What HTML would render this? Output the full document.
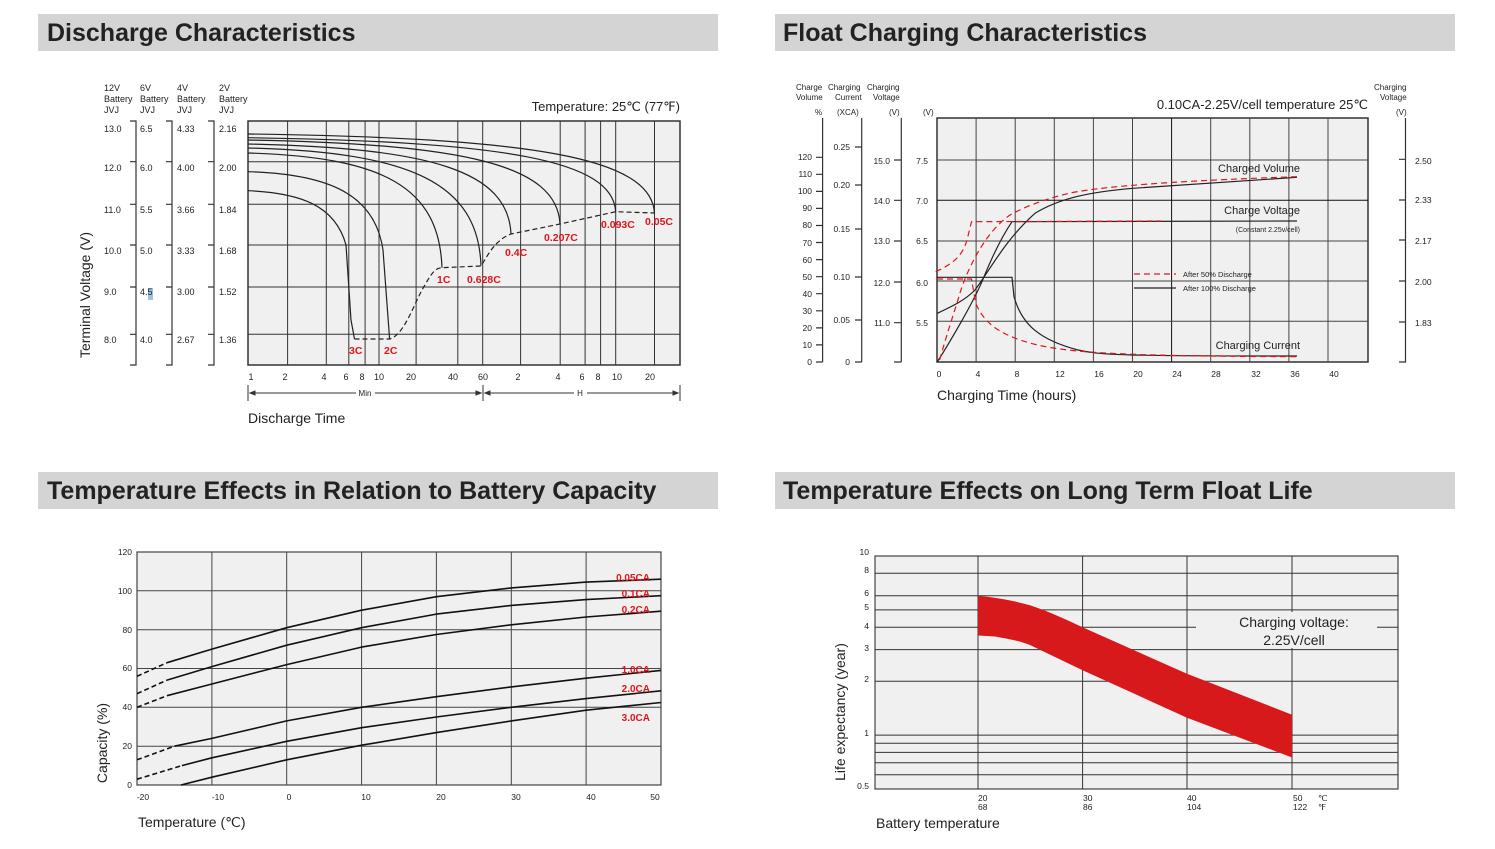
<!DOCTYPE html>
<html><head><meta charset="utf-8"><style>
html,body{margin:0;padding:0;background:#fff;}
svg{display:block;font-family:"Liberation Sans",Arial,sans-serif;}
</style></head><body>
<svg width="1495" height="849" viewBox="0 0 1495 849" xmlns="http://www.w3.org/2000/svg">
<!-- headers -->
<rect x="38" y="14" width="680" height="37" fill="#d4d4d4"/>
<rect x="775" y="14" width="680" height="37" fill="#d4d4d4"/>
<rect x="38" y="472" width="680" height="37" fill="#d4d4d4"/>
<rect x="775" y="472" width="680" height="37" fill="#d4d4d4"/>
<g font-weight="bold" font-size="25" fill="#222">
<text x="47" y="41">Discharge Characteristics</text>
<text x="783" y="41">Float Charging Characteristics</text>
<text x="47" y="499">Temperature Effects in Relation to Battery Capacity</text>
<text x="783" y="499">Temperature Effects on Long Term Float Life</text>
</g>

<!-- ===== Chart 1 ===== -->
<rect x="248" y="121" width="432" height="244" fill="#f0f0f0" stroke="#333" stroke-width="1.5"/>
<g stroke="#333" stroke-width="1">
<line x1="287.6" y1="121" x2="287.6" y2="365"/><line x1="326.3" y1="121" x2="326.3" y2="365"/>
<line x1="348.8" y1="121" x2="348.8" y2="365"/><line x1="365.1" y1="121" x2="365.1" y2="365"/>
<line x1="379" y1="121" x2="379" y2="365"/><line x1="416.1" y1="121" x2="416.1" y2="365"/>
<line x1="457.8" y1="121" x2="457.8" y2="365"/><line x1="482.7" y1="121" x2="482.7" y2="365"/>
<line x1="520.6" y1="121" x2="520.6" y2="365"/><line x1="560.2" y1="121" x2="560.2" y2="365"/>
<line x1="585.1" y1="121" x2="585.1" y2="365"/><line x1="600.6" y1="121" x2="600.6" y2="365"/>
<line x1="615.7" y1="121" x2="615.7" y2="365"/><line x1="654.5" y1="121" x2="654.5" y2="365"/>
<line x1="248" y1="161.7" x2="680" y2="161.7"/><line x1="248" y1="204.3" x2="680" y2="204.3"/>
<line x1="248" y1="245" x2="680" y2="245"/><line x1="248" y1="287" x2="680" y2="287"/>
<line x1="248" y1="334.3" x2="680" y2="334.3"/>
</g>
<g fill="none" stroke="#222" stroke-width="1.2">
<path d="M248,134 C532,138 651,157 654.5,213"/>
<path d="M248,137.7 C505,141.7 612.7,160 615.7,211.7"/>
<path d="M248,140 C466,144 557,165 560,224"/>
<path d="M248,144 C432,148 508,171 511,234"/>
<path d="M248,148 C411,152 478,183 481,265.7"/>
<path d="M248,153 C384,157 439,187 442,267.7"/>
<path d="M248,171.7 C330,174 375,195 383,250 L389.6,339"/>
<path d="M248,190.7 C300,193 335,205 346,245 L351,320 L354.5,339"/>
<path d="M354.5,339 L389.6,339 C405,335 415,300 425,285 C432,272 436,268 442,267.7 L481,266 C488,255 495,240 511,234 L560,224 L615.7,211.7 L654.5,213" stroke-dasharray="5,3"/>
</g>
<g fill="#e0161b" font-weight="bold" font-size="10.5">
<text x="349" y="354">3C</text><text x="384" y="354">2C</text>
<text x="437" y="283">1C</text><text x="467" y="283">0.628C</text>
<text x="505" y="256">0.4C</text><text x="544" y="241">0.207C</text>
<text x="601" y="228">0.093C</text><text x="645" y="225">0.05C</text>
</g>
<!-- left brackets -->
<g stroke="#333" stroke-width="1.2" fill="none">
<path d="M130,121 H136 V365 H130"/><path d="M166,121 H172 V365 H166"/><path d="M208,121 H214 V365 H208"/>
<path d="M130,161.7H136M130,204.3H136M130,245H136M130,287H136M130,334.3H136"/>
<path d="M166,161.7H172M166,204.3H172M166,245H172M166,287H172M166,334.3H172"/>
<path d="M208,161.7H214M208,204.3H214M208,245H214M208,287H214M208,334.3H214"/>
</g>
<rect x="148" y="288" width="5" height="12" fill="#9ec3e0"/>
<g font-size="9" fill="#222">
<text x="104" y="91">12V</text><text x="104" y="102">Battery</text><text x="104" y="113">JVJ</text>
<text x="140" y="91">6V</text><text x="140" y="102">Battery</text><text x="140" y="113">JVJ</text>
<text x="177" y="91">4V</text><text x="177" y="102">Battery</text><text x="177" y="113">JVJ</text>
<text x="219" y="91">2V</text><text x="219" y="102">Battery</text><text x="219" y="113">JVJ</text>
<text x="104" y="132">13.0</text><text x="104" y="171">12.0</text><text x="104" y="213">11.0</text><text x="104" y="254">10.0</text><text x="104" y="295">9.0</text><text x="104" y="343">8.0</text>
<text x="140" y="132">6.5</text><text x="140" y="171">6.0</text><text x="140" y="213">5.5</text><text x="140" y="254">5.0</text><text x="140" y="295">4.5</text><text x="140" y="343">4.0</text>
<text x="177" y="132">4.33</text><text x="177" y="171">4.00</text><text x="177" y="213">3.66</text><text x="177" y="254">3.33</text><text x="177" y="295">3.00</text><text x="177" y="343">2.67</text>
<text x="219" y="132">2.16</text><text x="219" y="171">2.00</text><text x="219" y="213">1.84</text><text x="219" y="254">1.68</text><text x="219" y="295">1.52</text><text x="219" y="343">1.36</text>
</g>
<text transform="translate(90,295) rotate(-90)" text-anchor="middle" font-size="14" fill="#222">Terminal Voltage (V)</text>
<text x="680" y="111" text-anchor="end" font-size="13" fill="#222">Temperature: 25℃ (77℉)</text>
<g font-size="9" fill="#222" text-anchor="middle">
<text x="251" y="380">1</text><text x="285" y="380">2</text><text x="324" y="380">4</text><text x="346" y="380">6</text><text x="362" y="380">8</text><text x="379" y="380">10</text><text x="411" y="380">20</text><text x="453" y="380">40</text><text x="483" y="380">60</text><text x="518" y="380">2</text><text x="558" y="380">4</text><text x="582" y="380">6</text><text x="598" y="380">8</text><text x="617" y="380">10</text><text x="650" y="380">20</text>
</g>
<g stroke="#333" stroke-width="1" fill="#333">
<line x1="248" y1="385" x2="248" y2="401"/><line x1="483" y1="385" x2="483" y2="401"/><line x1="680" y1="385" x2="680" y2="401"/>
<line x1="250" y1="393" x2="356" y2="393"/><line x1="375" y1="393" x2="481" y2="393"/>
<line x1="485" y1="393" x2="574" y2="393"/><line x1="587" y1="393" x2="678" y2="393"/>
<path d="M250,393 l5,-2 v4z M481,393 l-5,-2 v4z M485,393 l5,-2 v4z M678,393 l-5,-2 v4z"/>
</g>
<text x="365" y="396" text-anchor="middle" font-size="8" fill="#222">Min</text>
<text x="580" y="396" text-anchor="middle" font-size="8" fill="#222">H</text>
<text x="248" y="423" font-size="14" fill="#222">Discharge Time</text>

<!-- ===== Chart 2 ===== -->
<rect x="937" y="118" width="431" height="244" fill="#f0f0f0" stroke="#333" stroke-width="1.5"/>
<g stroke="#444" stroke-width="1">
<line x1="976.1" y1="118" x2="976.1" y2="362"/><line x1="1015.2" y1="118" x2="1015.2" y2="362"/>
<line x1="1054.3" y1="118" x2="1054.3" y2="362"/><line x1="1093.4" y1="118" x2="1093.4" y2="362"/>
<line x1="1132.5" y1="118" x2="1132.5" y2="362"/><line x1="1171.6" y1="118" x2="1171.6" y2="362" stroke="#111"/>
<line x1="1210.7" y1="118" x2="1210.7" y2="362"/><line x1="1249.8" y1="118" x2="1249.8" y2="362"/>
<line x1="1288.9" y1="118" x2="1288.9" y2="362"/><line x1="1328" y1="118" x2="1328" y2="362"/>
<line x1="937" y1="160" x2="1368" y2="160"/><line x1="937" y1="200.3" x2="1368" y2="200.3" stroke="#111"/>
<line x1="937" y1="241" x2="1368" y2="241"/><line x1="937" y1="281" x2="1368" y2="281"/>
<line x1="937" y1="321.3" x2="1368" y2="321.3"/>
</g>
<g fill="none" stroke-width="1.2">
<path d="M937,277.3 L1012,277.3 L1014,296.7 C1022,325 1040,340 1078,350 C1100,355 1120,356 1297,356" stroke="#222"/>
<path d="M937.4,361.7 C948,345 975,300 984,276.7 C995,250 1005,232 1012,221.7 L1297,221" stroke="#222"/>
<path d="M937.4,313.3 C955,305 965,300 975,290 C990,270 1005,240 1035,213.3 C1060,198 1090,192 1133,188.3 L1297,177.3" stroke="#222"/>
<g stroke="#e0161b" stroke-dasharray="6,4">
<path d="M935.7,271.7 C950,265 962,258 967,240 L971.5,221.7 L1161,221"/>
<path d="M939.6,360 C948,330 955,310 960,293 C967,270 985,232 1010,215 C1030,204 1050,198 1070,193 C1110,185 1200,180 1297,176.7"/>
<path d="M937,279 L971.5,279 L975.7,303.3 C985,325 1001,333 1020,340 C1056,352 1100,356 1297,356.7"/>
<line x1="1134" y1="274" x2="1176" y2="274"/>
</g>
<line x1="1134" y1="288" x2="1176" y2="288" stroke="#222"/>
</g>
<g font-size="11" fill="#222" text-anchor="end">
<text x="1300" y="172">Charged Volume</text><text x="1300" y="214">Charge Voltage</text>
<text x="1300" y="232" font-size="7">(Constant 2.25v/cell)</text>
<text x="1300" y="349">Charging Current</text>
</g>
<text x="1183" y="277" font-size="7.5" fill="#222">After   50% Discharge</text>
<text x="1183" y="291" font-size="7.5" fill="#222">After 100% Discharge</text>
<g stroke="#333" stroke-width="1.2" fill="none">
<path d="M822.6,118 V362"/><path d="M861.7,118 V362"/><path d="M901.3,118 V362"/>
<path d="M1405.5,118 V362 H1399"/>
<path d="M816,362H822.6M816,344.9H822.6M816,327.9H822.6M816,310.8H822.6M816,293.7H822.6M816,276.7H822.6M816,259.6H822.6M816,242.5H822.6M816,225.5H822.6M816,208.4H822.6M816,191.4H822.6M816,174.3H822.6M816,157.3H822.6"/>
<path d="M855,147H861.7M855,185H861.7M855,229H861.7M855,277H861.7M855,320H861.7M855,362H861.7"/>
<path d="M894,160H901.3M894,200.3H901.3M894,241H901.3M894,282H901.3M894,322.7H901.3M894,362H901.3"/>
<path d="M1399,159.3H1405.5M1399,200H1405.5M1399,240H1405.5M1399,281H1405.5M1399,322H1405.5"/>
</g>
<g font-size="8" fill="#222">
<text x="796" y="90">Charge</text><text x="796" y="100">Volume</text>
<text x="828" y="90">Charging</text><text x="835" y="100">Current</text>
<text x="867" y="90">Charging</text><text x="873" y="100">Voltage</text>
<text x="1374" y="90">Charging</text><text x="1380" y="100">Voltage</text>
<text x="815" y="115">%</text><text x="837" y="115">(XCA)</text><text x="889" y="115">(V)</text><text x="923" y="115">(V)</text><text x="1396" y="115">(V)</text>
</g>
<g font-size="8.5" fill="#222" text-anchor="end">
<text x="812" y="160">120</text><text x="812" y="177">110</text><text x="812" y="194">100</text><text x="812" y="211">90</text><text x="812" y="228">80</text><text x="812" y="246">70</text><text x="812" y="263">60</text><text x="812" y="280">50</text><text x="812" y="297">40</text><text x="812" y="314">30</text><text x="812" y="331">20</text><text x="812" y="348">10</text><text x="812" y="365">0</text>
<text x="850" y="150">0.25</text><text x="850" y="188">0.20</text><text x="850" y="232">0.15</text><text x="850" y="280">0.10</text><text x="850" y="323">0.05</text><text x="850" y="365">0</text>
<text x="890" y="164">15.0</text><text x="890" y="204">14.0</text><text x="890" y="244">13.0</text><text x="890" y="286">12.0</text><text x="890" y="326">11.0</text>
<text x="928" y="164">7.5</text><text x="928" y="204">7.0</text><text x="928" y="244">6.5</text><text x="928" y="286">6.0</text><text x="928" y="326">5.5</text>
</g>
<g font-size="8.5" fill="#222">
<text x="1415" y="164">2.50</text><text x="1415" y="203">2.33</text><text x="1415" y="244">2.17</text><text x="1415" y="285">2.00</text><text x="1415" y="326">1.83</text>
</g>
<g font-size="8.5" fill="#222" text-anchor="middle">
<text x="939" y="377">0</text><text x="978" y="377">4</text><text x="1017" y="377">8</text><text x="1060" y="377">12</text><text x="1099" y="377">16</text><text x="1138" y="377">20</text><text x="1177" y="377">24</text><text x="1216" y="377">28</text><text x="1256" y="377">32</text><text x="1295" y="377">36</text><text x="1334" y="377">40</text>
</g>
<text x="1368" y="109" text-anchor="end" font-size="13" fill="#222">0.10CA-2.25V/cell  temperature 25℃</text>
<text x="937" y="400" font-size="14" fill="#222">Charging Time (hours)</text>

<!-- ===== Chart 3 ===== -->
<rect x="137" y="552" width="524" height="233" fill="#f0f0f0" stroke="#444" stroke-width="1.2"/>
<g stroke="#444" stroke-width="1">
<line x1="211.9" y1="552" x2="211.9" y2="785"/><line x1="286.7" y1="552" x2="286.7" y2="785"/>
<line x1="361.6" y1="552" x2="361.6" y2="785"/><line x1="436.4" y1="552" x2="436.4" y2="785"/>
<line x1="511.3" y1="552" x2="511.3" y2="785"/><line x1="586.1" y1="552" x2="586.1" y2="785"/>
<line x1="137" y1="746.2" x2="661" y2="746.2"/><line x1="137" y1="707.3" x2="661" y2="707.3"/>
<line x1="137" y1="668.5" x2="661" y2="668.5"/><line x1="137" y1="629.7" x2="661" y2="629.7"/>
<line x1="137" y1="590.8" x2="661" y2="590.8"/>
</g>
<g fill="none" stroke="#111" stroke-width="1.6" stroke-linejoin="round">
<polyline points="167,662.7 211.9,649.1 286.7,627.7 361.6,610.2 436.4,596.7 511.3,587.9 586.1,582.1 661,579.2"/>
<polyline points="167,680.1 211.9,666.6 286.7,645.2 361.6,627.7 436.4,614.1 511.3,605.4 586.1,599.6 661,595.7"/>
<polyline points="167,695.7 211.9,684 286.7,664.6 361.6,647.1 436.4,634.5 511.3,624.8 586.1,617 661,611.2"/>
<polyline points="174.4,746.2 211.9,738.4 286.7,720.9 361.6,707.3 436.4,696.7 511.3,686.9 586.1,678.2 661,670.4"/>
<polyline points="181.9,765.6 211.9,757.8 286.7,741.3 361.6,727.7 436.4,717 511.3,707.3 586.1,698.6 661,690.8"/>
<polyline points="181,785 211.9,777.2 286.7,759.8 361.6,745.2 436.4,732.6 511.3,720.9 586.1,710.2 661,702.5"/>
<g stroke-dasharray="5,3">
<line x1="137" y1="676.3" x2="167" y2="662.7"/><line x1="137" y1="693.7" x2="167" y2="680.1"/>
<line x1="137" y1="707.3" x2="167" y2="695.7"/><line x1="137" y1="759.8" x2="174.4" y2="746.2"/>
<line x1="137" y1="779.2" x2="181.9" y2="765.6"/>
</g>
</g>
<g fill="#e0161b" font-weight="bold" font-size="10" text-anchor="end">
<text x="650" y="581">0.05CA</text><text x="650" y="597">0.1CA</text><text x="650" y="613">0.2CA</text>
<text x="650" y="673">1.0CA</text><text x="650" y="692">2.0CA</text><text x="650" y="721">3.0CA</text>
</g>
<g font-size="8.5" fill="#222" text-anchor="end">
<text x="132" y="555">120</text><text x="132" y="594">100</text><text x="132" y="633">80</text><text x="132" y="671">60</text><text x="132" y="710">40</text><text x="132" y="749">20</text><text x="132" y="788">0</text>
</g>
<g font-size="8.5" fill="#222" text-anchor="middle">
<text x="143" y="800">-20</text><text x="218" y="800">-10</text><text x="289" y="800">0</text><text x="366" y="800">10</text><text x="441" y="800">20</text><text x="516" y="800">30</text><text x="591" y="800">40</text><text x="655" y="800">50</text>
</g>
<text transform="translate(107,743) rotate(-90)" text-anchor="middle" font-size="14" fill="#222">Capacity (%)</text>
<text x="138" y="827" font-size="14" fill="#222">Temperature (℃)</text>

<!-- ===== Chart 4 ===== -->
<rect x="875" y="556" width="523" height="233" fill="#f0f0f0" stroke="#444" stroke-width="1.2"/>
<g stroke="#333" stroke-width="1">
<line x1="978" y1="556" x2="978" y2="789"/><line x1="1082.6" y1="556" x2="1082.6" y2="789"/>
<line x1="1187" y1="556" x2="1187" y2="789"/><line x1="1292" y1="556" x2="1292" y2="789"/>
<line x1="875" y1="774.8" x2="1398" y2="774.8"/><line x1="875" y1="762.8" x2="1398" y2="762.8"/>
<line x1="875" y1="752.4" x2="1398" y2="752.4"/><line x1="875" y1="743.3" x2="1398" y2="743.3"/>
<line x1="875" y1="735.1" x2="1398" y2="735.1"/><line x1="875" y1="681.2" x2="1398" y2="681.2"/>
<line x1="875" y1="649.6" x2="1398" y2="649.6"/><line x1="875" y1="627.3" x2="1398" y2="627.3"/>
<line x1="875" y1="609.9" x2="1398" y2="609.9"/><line x1="875" y1="595.7" x2="1398" y2="595.7"/>
<line x1="875" y1="573.3" x2="1398" y2="573.3"/>
</g>
<rect x="1196" y="612" width="181" height="36" fill="#f0f0f0"/>
<path d="M978,595.7 C1000,598 1015,601 1030.3,605.4 C1050,612 1065,619 1082.6,627.3 L1187,673.8 L1292,714.7 L1292,757.5 L1187,717.7 L1082.6,670.3 L1030,645 C1020,641 1009,639 995,636.5 L978,635.5 Z" fill="#d7191c"/>
<text x="1294" y="627" text-anchor="middle" font-size="14" fill="#222">Charging voltage:</text>
<text x="1294" y="645" text-anchor="middle" font-size="14" fill="#222">2.25V/cell</text>
<g font-size="8.5" fill="#222" text-anchor="end">
<text x="869" y="555">10</text><text x="869" y="573">8</text><text x="869" y="596">6</text><text x="869" y="610">5</text><text x="869" y="629">4</text><text x="869" y="651">3</text><text x="869" y="682">2</text><text x="869" y="736">1</text><text x="869" y="789">0.5</text>
</g>
<g font-size="8.5" fill="#222">
<text x="978" y="801">20</text><text x="978" y="810">68</text>
<text x="1083" y="801">30</text><text x="1083" y="810">86</text>
<text x="1187" y="801">40</text><text x="1187" y="810">104</text>
<text x="1293" y="801">50</text><text x="1293" y="810">122</text>
<text x="1318" y="801">℃</text><text x="1318" y="810">℉</text>
</g>
<text transform="translate(845,712) rotate(-90)" text-anchor="middle" font-size="14" fill="#222">Life expectancy (year)</text>
<text x="876" y="828" font-size="14" fill="#222">Battery temperature</text>
</svg>
</body></html>
